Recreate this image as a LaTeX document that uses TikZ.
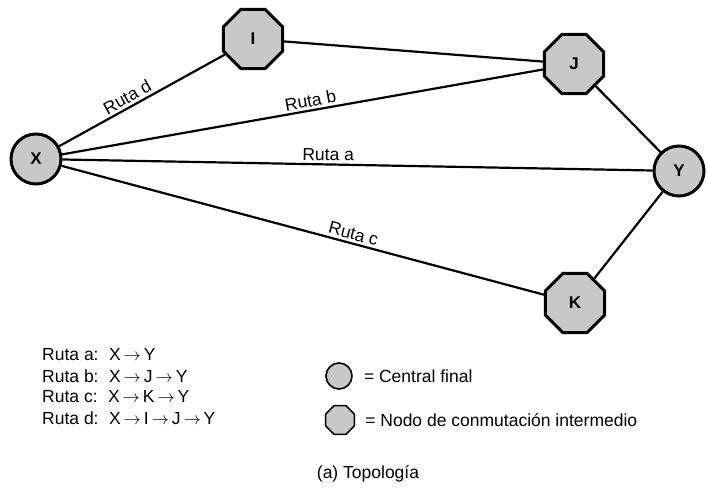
\documentclass[tikz,border=0pt]{standalone}
\usepackage{fontspec}
\setmainfont{Liberation Sans}
\usepackage{tikz}
\usetikzlibrary{shapes.geometric, positioning}
\definecolor{nodefill}{RGB}{200, 200, 200}

\newcommand{\ar}{\,$\rightarrow$\,}

\begin{document}
\begin{tikzpicture}[
  x=1pt, y=-1pt,
  central/.style = {circle, draw=black, line width=3pt, fill=nodefill,
                    minimum size=50pt, inner sep=0pt,
                    font=\fontsize{17}{19}\selectfont\bfseries},
  switch/.style  = {regular polygon, regular polygon sides=8,
                    draw=black, line width=3pt,
                    fill=nodefill, minimum size=64pt, inner sep=0pt,
                    font=\fontsize{17}{19}\selectfont\bfseries},
  link/.style    = {line width=2.2pt},
  lbl/.style     = {font=\fontsize{17.5}{19}\selectfont, sloped, above, inner sep=2.5pt},
  txt/.style     = {font=\fontsize{17.5}{19}\selectfont, anchor=west, inner sep=0pt},
]
  \useasboundingbox (0,0) rectangle (709,489);

  % Nodes
  \node[central] (x) at (36,159)  {X};
  \node[switch]  (i) at (253,39)  {I};
  \node[switch]  (j) at (574,64)  {J};
  \node[central] (y) at (679,171) {Y};
  \node[switch]  (k) at (575,303) {K};

  % Links
  \draw[link] (x) -- node[lbl, pos=0.44]{Ruta d} (i);
  \draw[link] (x) -- node[lbl, pos=0.52]{Ruta b} (j);
  \draw[link] (x) -- node[lbl, pos=0.45]{Ruta a} (y);
  \draw[link] (x) -- node[lbl, pos=0.60]{Ruta c} (k);
  \draw[link] (i) -- (j);
  \draw[link] (j) -- (y);
  \draw[link] (k) -- (y);

  % Routes
  \node[txt] (ra) at (42,355) {Ruta a:\hspace{0.6em}X\ar Y};
  \node[txt] (rb) at (42,376) {Ruta b:\hspace{0.6em}X\ar J\ar Y};
  \node[txt] (rc) at (42,397) {Ruta c:\hspace{0.6em}X\ar K\ar Y};
  \node[txt] (rd) at (42,418) {Ruta d:\hspace{0.6em}X\ar I\ar J\ar Y};

  % Key
  \node[central, minimum size=26pt, line width=1.6pt] (kc) at (339,376) {};
  \node[txt, right=11pt of kc] (kct) {= Central final};
  \node[switch, minimum size=31pt, line width=1.6pt] (ko) at (340,420) {};
  \node[txt, right=10pt of ko] (kot) {= Nodo de conmutación intermedio};

  \node[font=\fontsize{17.5}{19}\selectfont] (cap) at (368,474) {(a) Topología};
\end{tikzpicture}
\end{document}
